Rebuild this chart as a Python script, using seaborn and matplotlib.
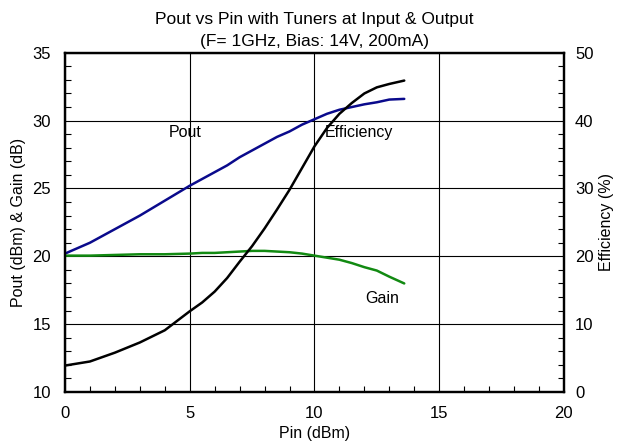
import matplotlib
matplotlib.use("Agg")
import matplotlib.pyplot as plt
import seaborn as sns
import pandas as pd
from matplotlib.ticker import MultipleLocator

# Pin (dBm) sample points
pin = [0, 1, 2, 3, 4, 5, 5.5, 6, 6.5, 7, 7.5, 8, 8.5, 9, 9.5, 10, 10.5, 11,
       11.5, 12, 12.5, 13, 13.6]
# Pout (dBm)
pout = [20.2, 21.0, 22.0, 23.0, 24.1, 25.2, 25.7, 26.2, 26.7, 27.3, 27.8, 28.3,
        28.8, 29.2, 29.7, 30.1, 30.5, 30.8, 31.0, 31.2, 31.35, 31.55, 31.6]
# Gain (dB)
gain = [20.05, 20.05, 20.1, 20.15, 20.15, 20.2, 20.25, 20.25, 20.3, 20.35, 20.4,
        20.4, 20.35, 20.3, 20.2, 20.05, 19.9, 19.75, 19.5, 19.2, 18.95, 18.5, 18.0]
# Efficiency (%)
eff = [3.9, 4.5, 5.8, 7.3, 9.1, 11.9, 13.2, 14.8, 16.8, 19.2, 21.5, 24.1,
       26.9, 29.8, 33.0, 36.2, 38.9, 41.0, 42.6, 44.0, 44.9, 45.4, 45.9]

df = pd.DataFrame({"pin": pin, "pout": pout, "gain": gain, "eff": eff})

sns.set_style("ticks")
plt.rcParams["font.family"] = ["Liberation Sans", "DejaVu Sans"]
plt.rcParams["text.color"] = "black"
plt.rcParams["axes.labelcolor"] = "black"

fig, ax = plt.subplots(figsize=(6.19, 4.47), dpi=100)
fig.subplots_adjust(left=0.105, right=0.911, top=0.882, bottom=0.123)

sns.lineplot(data=df, x="pin", y="pout", ax=ax, color="#0a0a8c", linewidth=1.8)
sns.lineplot(data=df, x="pin", y="gain", ax=ax, color="#128a12", linewidth=1.8)

ax2 = ax.twinx()
sns.lineplot(data=df, x="pin", y="eff", ax=ax2, color="black", linewidth=1.8)

ax.set_xlim(0, 20)
ax.set_ylim(10, 35)
ax2.set_ylim(0, 50)

ax.xaxis.set_major_locator(MultipleLocator(5))
ax.xaxis.set_minor_locator(MultipleLocator(1))
ax.yaxis.set_major_locator(MultipleLocator(5))
ax.yaxis.set_minor_locator(MultipleLocator(1))
ax2.yaxis.set_major_locator(MultipleLocator(10))
ax2.yaxis.set_minor_locator(MultipleLocator(2))

ax.grid(True, which="major", color="black", linewidth=0.8)
ax.set_axisbelow(True)

for a in (ax, ax2):
    a.tick_params(which="both", direction="in", labelsize=12, colors="black")
    a.tick_params(which="major", length=0, pad=10)
    a.tick_params(which="minor", length=4, width=0.8)
    for s in a.spines.values():
        s.set_linewidth(1.6)
        s.set_color("black")
ax2.tick_params(which="major", pad=8)

ax.set_xlabel("Pin (dBm)", fontsize=11.5, labelpad=4, color="black")
ax.set_ylabel("Pout (dBm) & Gain (dB)", fontsize=11.5, labelpad=5, color="black")
ax2.set_ylabel("Efficiency (%)", fontsize=11.5, labelpad=4, color="black")

ax.set_title("Pout vs Pin with Tuners at Input & Output\n(F= 1GHz, Bias: 14V, 200mA)",
             fontsize=12.5, linespacing=1.55, pad=5, color="black")

ax.text(4.8, 29.1, "Pout", fontsize=11.5, ha="center", va="center", color="black")
ax.text(11.8, 29.1, "Efficiency", fontsize=11.5, ha="center", va="center", color="black")
ax.text(12.7, 16.9, "Gain", fontsize=11.5, ha="center", va="center", color="black")

fig.savefig("out.png", dpi=100)
